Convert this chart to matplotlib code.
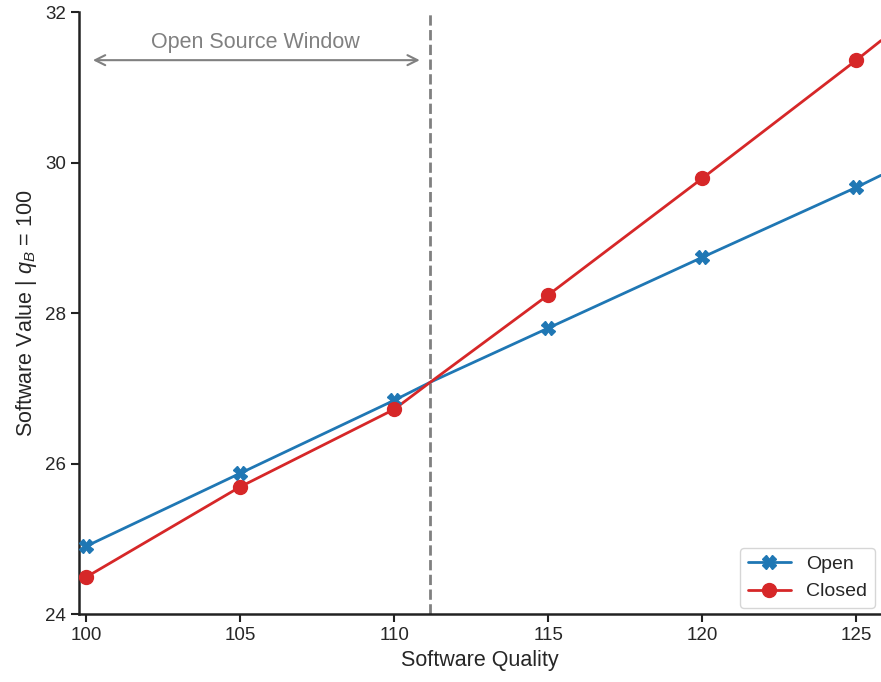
import matplotlib
matplotlib.use("Agg")
import matplotlib.pyplot as plt
import seaborn as sns

# software quality at which the values are sampled
quality = [100, 105, 110, 115, 120, 125]
open_value = [24.90, 25.87, 26.84, 27.80, 28.74, 29.67]
closed_value = [24.49, 25.69, 26.72, 28.24, 29.79, 31.36]

# curve traces (sampled more finely than the markers, incl. crossing point)
curve_quality = [100, 105, 110, 111.17, 115, 120, 125, 125.8]
open_curve = [24.90, 25.87, 26.84, 27.08, 27.80, 28.74, 29.67, 29.83]
closed_curve = [24.49, 25.69, 26.72, 27.08, 28.24, 29.79, 31.36, 31.62]

threshold = 111.17
window_start = 100.13
window_y = 31.36

sns.set_theme(style="ticks")
plt.rcParams['font.family'] = ['Liberation Sans', 'DejaVu Sans']
plt.rcParams['mathtext.fontset'] = 'custom'
plt.rcParams['mathtext.rm'] = 'Liberation Sans'
plt.rcParams['mathtext.it'] = 'Liberation Sans:italic'

fig = plt.figure(figsize=(8.81, 6.82), dpi=100)
ax = fig.add_axes([0.0897, 0.0997, 0.9103, 0.8827])

blue = '#1f77b4'
red = '#d62728'

ax.plot(curve_quality, open_curve, color=blue, lw=2, zorder=3)
ax.plot(quality, open_value, color=blue, lw=0, marker='X', ms=10, zorder=4)
ax.plot(curve_quality, closed_curve, color=red, lw=2, zorder=3)
ax.plot(quality, closed_value, color=red, lw=0, marker='o', ms=10, zorder=4)

# legend proxies
ax.plot([], [], color=blue, lw=2, marker='X', ms=10, label='Open')
ax.plot([], [], color=red, lw=2, marker='o', ms=10, label='Closed')

ax.axvline(threshold, color='gray', ls='--', lw=2, zorder=2)
ax.annotate('', xy=(window_start, window_y), xytext=(threshold - 0.25, window_y),
            arrowprops=dict(arrowstyle='<->,head_length=0.6,head_width=0.3',
                            color='gray', lw=1.5))
ax.text((window_start + threshold) / 2 - 0.15, window_y + 0.09, 'Open Source Window',
        color='gray', fontsize=15.5, ha='center', va='bottom')

ax.set_xlim(99.77, 125.8)
ax.set_ylim(24, 32)
ax.set_xticks([100, 105, 110, 115, 120, 125])
ax.set_yticks([24, 26, 28, 30, 32])
ax.tick_params(labelsize=13.5, width=1.5, length=6, color='#222222')
for side in ('left', 'bottom'):
    ax.spines[side].set_linewidth(1.8)
    ax.spines[side].set_color('#222222')
sns.despine(ax=ax)

ax.set_xlabel('Software Quality', fontsize=15.5)
ax.set_ylabel('Software Value | $q_B$ = 100', fontsize=15.5)

ax.legend(loc='lower right', fontsize=14, frameon=True, borderaxespad=0.3,
          handlelength=2.2)

fig.savefig('out.png', dpi=100)
